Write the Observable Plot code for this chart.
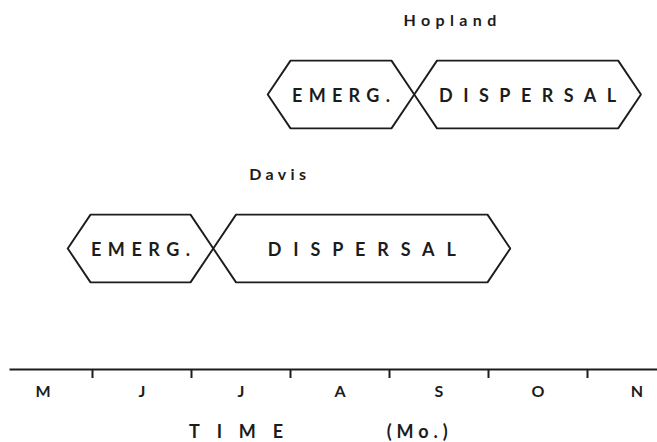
<!DOCTYPE html>
<html>
<head>
<meta charset="utf-8">
<script src="https://cdn.jsdelivr.net/npm/d3@7"></script>
<script src="https://cdn.jsdelivr.net/npm/@observablehq/plot@0.6"></script>
<style>
  html, body { margin: 0; padding: 0; background: #fff; }
  svg { display: block; }
</style>
</head>
<body>
<div id="chart"></div>
<script>
// ---- data (months numbered: May = 5, June = 6, ...; fractional = part of month) ----
const monthLabels = ["M", "J", "J", "A", "S", "O", "N"];
const monthStarts = [5, 6, 7, 8, 9, 10, 11];
const monthBoundaries = [6, 7, 8, 9, 10, 11];

const sites = ["Hopland", "Davis"];
const siteRows = [2, 1];
const siteLabelAt = [9.61, 7.87];

const phaseSite = ["Hopland", "Hopland", "Davis", "Davis"];
const phaseName = ["EMERG.", "DISPERSAL", "EMERG.", "DISPERSAL"];
const phaseStart = [7.77, 9.25, 5.75, 7.22];
const phaseEnd = [9.25, 11.54, 7.22, 10.22];

const axisTitleParts = ["TIME", "(Mo.)"];
const axisTitleAt = [7.45, 9.28];
const axisExtent = [5.17, 11.71];

// ---- styles / shape constants ----
const ink = "#1c1c1c";
const slant = 0.23;      // horizontal depth of pointed ends (months)
const halfHeight = 0.22; // half height of each hexagon (row units)
const phaseTextWidth = [98, 177, 99, 188];
const siteTextWidth = [93, 57];
const axisTitleWidth = [94, 61];

// ---- derived tables ----
const rowOf = new Map(sites.map((s, i) => [s, siteRows[i]]));
const phases = phaseName.map((name, i) => ({
  id: i, name, site: phaseSite[i], start: phaseStart[i], end: phaseEnd[i]
}));
const hexPoints = phases.flatMap(p => {
  const y = rowOf.get(p.site), s = p.start, e = p.end;
  return [
    [s, y], [s + slant, y + halfHeight], [e - slant, y + halfHeight],
    [e, y], [e - slant, y - halfHeight], [s + slant, y - halfHeight], [s, y]
  ].map(([x, yy]) => ({id: p.id, x, y: yy}));
});
const siteLabels = sites.map((s, i) => ({name: s, x: siteLabelAt[i], y: siteRows[i]}));
const months = monthLabels.map((m, i) => ({label: m, x: monthStarts[i] + 0.5}));
const axisTitle = axisTitleParts.map((t, i) => ({text: t, x: axisTitleAt[i]}));

const font = "Lato, 'Noto Sans', sans-serif";

const svg = Plot.plot({
  width: 657,
  height: 442,
  marginTop: 0,
  marginLeft: 10,
  marginRight: 0,
  marginBottom: 73,
  x: {domain: [5, 12], range: [-7, 686], axis: null},
  y: {domain: [0, 2], range: [402, 94], axis: null},
  style: {fontFamily: font, background: "#fff", color: ink},
  marks: [
    Plot.frame({anchor: "bottom", stroke: ink, strokeWidth: 2}),
    Plot.axisX({ticks: monthBoundaries, tickSize: 9, tickFormat: () => "", label: null, stroke: ink, strokeWidth: 2}),
    Plot.text(months, {x: "x", text: "label", frameAnchor: "bottom", dy: 27.5, fontSize: 16, fontWeight: 700, fill: ink}),
    Plot.text(axisTitle, {x: "x", text: "text", frameAnchor: "bottom", dy: 68, fontSize: 18, fontWeight: 700, fill: ink, className: "axis-title"}),
    Plot.line(hexPoints, {x: "x", y: "y", z: "id", stroke: ink, strokeWidth: 1.9, strokeLinejoin: "miter", curve: "linear"}),
    Plot.text(phases, {x: d => (d.start + d.end) / 2, y: d => rowOf.get(d.site), text: "name", fontSize: 18, fontWeight: 700, dy: 1.5, fill: ink, className: "phase-text"}),
    Plot.text(siteLabels, {x: "x", y: "y", text: "name", fontSize: 16, fontWeight: 700, dy: -73.5, fill: ink, className: "site-text"})
  ]
});

function fit(cls, widths) {
  d3.select(svg).selectAll(`g.${cls} text`).each(function(_, i) {
    if (widths[i] != null) {
      this.setAttribute("textLength", widths[i]);
      this.setAttribute("lengthAdjust", "spacing");
    }
  });
}
fit("phase-text", phaseTextWidth);
fit("site-text", siteTextWidth);
fit("axis-title", axisTitleWidth);

document.getElementById("chart").appendChild(svg);
</script>
</body>
</html>
